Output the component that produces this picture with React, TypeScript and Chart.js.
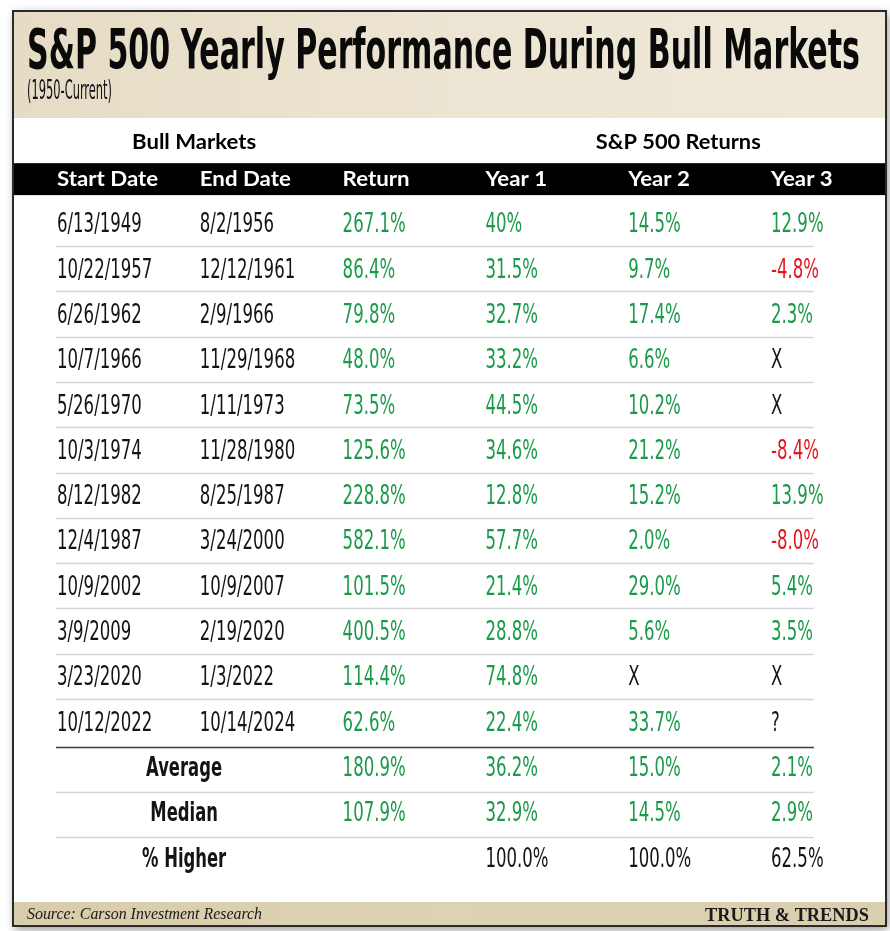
import React, { useEffect, useRef } from "react";
import { Chart, registerables } from "chart.js";

Chart.register(...registerables);

// ---------- data ----------
const columnHeaders = ["Start Date", "End Date", "Return", "Year 1", "Year 2", "Year 3"];
const startDates = ["6/13/1949", "10/22/1957", "6/26/1962", "10/7/1966", "5/26/1970", "10/3/1974", "8/12/1982", "12/4/1987", "10/9/2002", "3/9/2009", "3/23/2020", "10/12/2022"];
const endDates = ["8/2/1956", "12/12/1961", "2/9/1966", "11/29/1968", "1/11/1973", "11/28/1980", "8/25/1987", "3/24/2000", "10/9/2007", "2/19/2020", "1/3/2022", "10/14/2024"];
const totalReturns = ["267.1%", "86.4%", "79.8%", "48.0%", "73.5%", "125.6%", "228.8%", "582.1%", "101.5%", "400.5%", "114.4%", "62.6%"];
const year1Returns = ["40%", "31.5%", "32.7%", "33.2%", "44.5%", "34.6%", "12.8%", "57.7%", "21.4%", "28.8%", "74.8%", "22.4%"];
const year2Returns = ["14.5%", "9.7%", "17.4%", "6.6%", "10.2%", "21.2%", "15.2%", "2.0%", "29.0%", "5.6%", "X", "33.7%"];
const year3Returns = ["12.9%", "-4.8%", "2.3%", "X", "X", "-8.4%", "13.9%", "-8.0%", "5.4%", "3.5%", "X", "?"];
const summaryLabels = ["Average", "Median", "% Higher"];
const averageRow = ["180.9%", "36.2%", "15.0%", "2.1%"];
const medianRow = ["107.9%", "32.9%", "14.5%", "2.9%"];
const higherRow = ["", "100.0%", "100.0%", "62.5%"];

const TITLE = "S&P 500 Yearly Performance During Bull Markets";
const SUBTITLE = "(1950-Current)";
const GROUP_LEFT = "Bull Markets";
const GROUP_RIGHT = "S&P 500 Returns";
const SOURCE = "Source: Carson Investment Research";
const BRAND = "TRUTH & TRENDS";

// ---------- styles ----------
const COND = '"Liberation Sans Narrow", "Arial Narrow", "DejaVu Sans Condensed", sans-serif';
const HUM = 'Lato, "Open Sans", "Noto Sans", sans-serif';
const SERIF = '"Liberation Serif", "DejaVu Serif", serif';
const GREEN = "#1b9a4b";
const RED = "#e5161b";
const INK = "#141414";

type Cell = { x: number; y: number; text: string; color: string };

function colorFor(text: string, plain: boolean) {
  if (plain) return INK;
  if (text.startsWith("-")) return RED;
  if (/^[0-9]/.test(text)) return GREEN;
  return INK;
}

function buildCells(): Cell[] {
  const cells: Cell[] = [];
  const cols = [startDates, endDates, totalReturns, year1Returns, year2Returns, year3Returns];
  cols.forEach((col, c) => {
    col.forEach((t, r) => {
      cells.push({ x: c, y: r, text: t, color: c < 2 ? INK : colorFor(t, false) });
    });
  });
  const summary = [averageRow, medianRow, higherRow];
  summary.forEach((row, i) => {
    row.forEach((t, j) => {
      if (!t) return;
      cells.push({ x: j + 2, y: startDates.length + i, text: t, color: colorFor(t, i === 2) });
    });
  });
  return cells;
}

function buildSummaryLabels(): Cell[] {
  return summaryLabels.map((t, i) => ({ x: 0.89, y: startDates.length + i, text: t, color: INK }));
}

function drawText(
  ctx: CanvasRenderingContext2D,
  text: string,
  x: number,
  y: number,
  o: { font: string; color: string; align?: CanvasTextAlign; base?: CanvasTextBaseline; sx?: number; sy?: number; fit?: number }
) {
  ctx.save();
  ctx.font = o.font;
  ctx.fillStyle = o.color;
  ctx.textAlign = o.align || "left";
  ctx.textBaseline = o.base || "middle";
  const w = ctx.measureText(text).width;
  const kx = o.fit ? o.fit / w : o.sx || 1;
  ctx.translate(x, y);
  ctx.scale(kx, o.sy || 1);
  ctx.fillText(text, 0, 0);
  ctx.restore();
}

const tablePlugin = {
  id: "tablePlugin",
  beforeDraw(chart: any) {
    const ctx: CanvasRenderingContext2D = chart.ctx;
    const xs = chart.scales.x;
    const ys = chart.scales.y;
    const W = chart.width;
    const H = chart.height;
    ctx.save();
    ctx.fillStyle = "#ffffff";
    ctx.fillRect(0, 0, W, H);

    // frame with shadow
    const fx = 13, fy = 11, fw = 873, fh = 915;
    ctx.save();
    ctx.shadowColor = "rgba(0,0,0,0.45)";
    ctx.shadowBlur = 9;
    ctx.shadowOffsetX = 2;
    ctx.shadowOffsetY = 3;
    ctx.fillStyle = "#ffffff";
    ctx.fillRect(fx, fy, fw, fh);
    ctx.restore();

    // header band
    const ca = chart.chartArea;
    const g = ctx.createLinearGradient(fx, 0, fx + fw, 0);
    g.addColorStop(0, "#e6dcc5");
    g.addColorStop(0.5, "#ede5d3");
    g.addColorStop(1, "#efe8d9");
    ctx.fillStyle = g;
    ctx.fillRect(fx, fy, fw, ca.top - fy);

    // footer band
    const g2 = ctx.createLinearGradient(fx, 0, fx + fw, 0);
    g2.addColorStop(0, "#d8cca9");
    g2.addColorStop(0.5, "#ddd2b4");
    g2.addColorStop(1, "#d9cead");
    ctx.fillStyle = g2;
    ctx.fillRect(fx, ca.bottom, fw, fy + fh - ca.bottom);

    // frame border
    ctx.strokeStyle = "#2a2a2a";
    ctx.lineWidth = 2;
    ctx.strokeRect(fx, fy, fw, fh);

    // black column-header band
    const bTop = ys.getPixelForValue(-1.38);
    const bBot = ys.getPixelForValue(-0.675);
    ctx.fillStyle = "#000000";
    ctx.fillRect(fx + 1, bTop, fw - 2, bBot - bTop);

    // separators
    const lx0 = xs.getPixelForValue(-0.007);
    const lx1 = xs.getPixelForValue(5.3);
    const n = startDates.length;
    ctx.lineWidth = 1.5;
    ctx.strokeStyle = "#d6d6d6";
    for (let r = 0; r < n - 1; r++) {
      const y = Math.round(ys.getPixelForValue(r + 0.45)) + 0.5;
      ctx.beginPath();
      ctx.moveTo(lx0, y);
      ctx.lineTo(lx1, y);
      ctx.stroke();
    }
    for (let r = n; r < n + 2; r++) {
      const y = Math.round(ys.getPixelForValue(r + 0.5)) + 0.5;
      ctx.beginPath();
      ctx.moveTo(lx0, y);
      ctx.lineTo(lx1, y);
      ctx.stroke();
    }
    ctx.strokeStyle = "#3a3a3a";
    const yd = Math.round(ys.getPixelForValue(n - 0.5)) + 0.5;
    ctx.beginPath();
    ctx.moveTo(lx0, yd);
    ctx.lineTo(lx1, yd);
    ctx.stroke();

    // titles
    drawText(ctx, TITLE, 27, 68, { font: `bold 55px ${COND}`, color: "#0a0a0a", base: "alphabetic", fit: 833 });
    drawText(ctx, SUBTITLE, 27, 99, { font: `27px ${COND}`, color: "#111", base: "alphabetic", fit: 85 });

    // group headers
    const gy = ys.getPixelForValue(-1.83);
    drawText(ctx, GROUP_LEFT, xs.getPixelForValue(0.96), gy, { font: `bold 20px ${HUM}`, color: "#000", align: "center", fit: 124 });
    drawText(ctx, GROUP_RIGHT, xs.getPixelForValue(4.35), gy, { font: `bold 20px ${HUM}`, color: "#000", align: "center", fit: 165 });

    // column headers
    const hy = ys.getPixelForValue(-1.03);
    columnHeaders.forEach((h, i) => {
      drawText(ctx, h, xs.getPixelForValue(i), hy, { font: `bold 21px ${HUM}`, color: "#ffffff", sx: 1.06 });
    });

    // footer
    drawText(ctx, SOURCE, 27, 919, { font: `italic 17px ${SERIF}`, color: "#1a1a1a", base: "alphabetic", fit: 235 });
    drawText(ctx, BRAND, 869, 920.5, { font: `bold 19px ${SERIF}`, color: "#1a1a1a", align: "right", base: "alphabetic", fit: 164 });
    ctx.restore();
  },
  afterDatasetsDraw(chart: any) {
    const ctx: CanvasRenderingContext2D = chart.ctx;
    chart.data.datasets.forEach((ds: any, di: number) => {
      const meta = chart.getDatasetMeta(di);
      meta.data.forEach((el: any, i: number) => {
        const cell: Cell = ds.data[i];
        if (ds.kind === "label") {
          drawText(ctx, cell.text, el.x, el.y, { font: `bold 24px ${COND}`, color: cell.color, align: "center", sx: 0.76, sy: 1.08 });
        } else {
          drawText(ctx, cell.text, el.x, el.y, { font: `23px ${COND}`, color: cell.color, sx: 0.8, sy: 1.12 });
        }
      });
    });
  },
};

export default function App() {
  const ref = useRef<HTMLCanvasElement | null>(null);
  useEffect(() => {
    if (!ref.current) return;
    const chart = new Chart(ref.current, {
      type: "scatter",
      data: {
        datasets: [
          { kind: "cell", data: buildCells(), pointRadius: 0, pointHoverRadius: 0 } as any,
          { kind: "label", data: buildSummaryLabels(), pointRadius: 0, pointHoverRadius: 0 } as any,
        ],
      },
      options: {
        responsive: false,
        animation: false,
        events: [],
        layout: { padding: { left: 15, right: 5, top: 118, bottom: 29 } },
        scales: {
          x: { type: "linear", min: -0.294, max: 5.798, display: false },
          y: { type: "linear", min: -2.377, max: 14.93, reverse: true, display: false },
        },
        plugins: { legend: { display: false }, tooltip: { enabled: false }, title: { display: false } },
      },
      plugins: [tablePlugin],
    });
    return () => chart.destroy();
  }, []);
  return (
    <div style={{ position: "absolute", left: 0, top: 0, width: 890, height: 931, background: "#fff" }}>
      <canvas ref={ref} width={890} height={931} style={{ display: "block", width: 890, height: 931 }} />
    </div>
  );
}
